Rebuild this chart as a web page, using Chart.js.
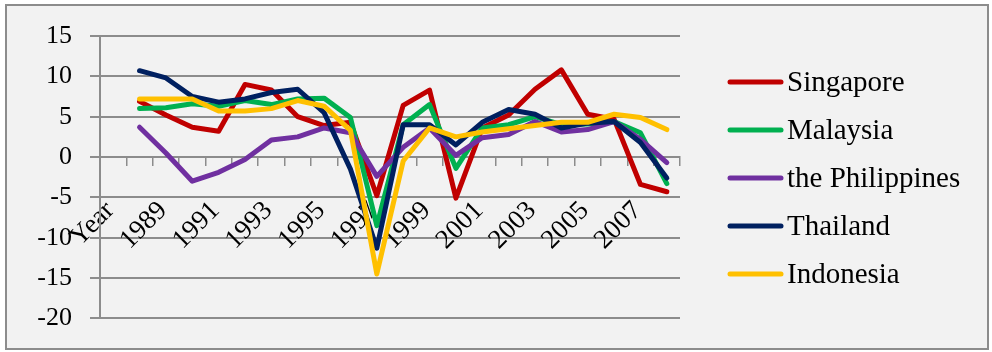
<!DOCTYPE html>
<html>
<head>
<meta charset="utf-8">
<script src="https://cdn.jsdelivr.net/npm/chart.js@4"></script>
<style>
	html, body { margin: 0; padding: 0; background: #fff; }
	canvas { display: block; }
</style>
</head>
<body>
<canvas id="growth" width="992" height="352"></canvas>
<script>
// x categories, first slot is the header cell
const years = ['Year', '1988', '1989', '1990', '1991', '1992', '1993', '1994', '1995', '1996', '1997',
	'1998', '1999', '2000', '2001', '2002', '2003', '2004', '2005', '2006', '2007', '2008'];

// GDP growth (%) by country
const singapore = [null, 6.9, 5.2, 3.7, 3.2, 9.0, 8.3, 5.0, 3.9, 4.3, -4.8, 6.4, 8.3, -5.1, 3.6, 5.2, 8.4, 10.8, 5.3, 4.7, -3.4, -4.3];
const malaysia = [null, 6.0, 6.1, 6.6, 6.3, 7.0, 6.5, 7.2, 7.3, 4.9, -8.5, 4.0, 6.5, -1.4, 3.6, 4.0, 5.0, 4.0, 4.1, 4.4, 3.0, -3.3];
const philippines = [null, 3.7, 0.5, -3.0, -1.9, -0.3, 2.1, 2.5, 3.6, 3.0, -2.4, 1.2, 3.6, 0.2, 2.4, 2.8, 4.4, 3.1, 3.4, 4.4, 2.2, -0.7];
const thailand = [null, 10.7, 9.8, 7.5, 6.8, 7.2, 8.0, 8.4, 5.5, -1.5, -11.3, 4.0, 4.0, 1.5, 4.3, 5.9, 5.3, 3.6, 4.2, 4.4, 1.8, -2.6];
const indonesia = [null, 7.2, 7.2, 7.2, 5.7, 5.7, 6.0, 7.0, 6.3, 3.3, -14.5, -0.5, 3.6, 2.5, 3.1, 3.5, 3.9, 4.3, 4.3, 5.3, 4.9, 3.4];

const yTicks = [15, 10, 5, 0, -5, -10, -15, -20];

const serif = '"Liberation Serif", "Times New Roman", serif';
const gridColor = '#8c8c8c';

// frame + panel background
const panelBg = {
	id: 'panelBg',
	beforeDraw(chart) {
		const ctx = chart.ctx;
		ctx.save();
		ctx.fillStyle = '#ffffff';
		ctx.fillRect(0, 0, chart.width, chart.height);
		ctx.fillStyle = '#f2f2f2';
		ctx.fillRect(6, 5, 982, 344);
		ctx.strokeStyle = gridColor;
		ctx.lineWidth = 2;
		ctx.strokeRect(6, 5, 982, 344);
		ctx.restore();
	}
};

// legend drawn as line samples on the right
const sideLegend = {
	id: 'sideLegend',
	afterDraw(chart) {
		const ctx = chart.ctx;
		ctx.save();
		ctx.font = `29px ${serif}`;
		ctx.textBaseline = 'middle';
		ctx.textAlign = 'left';
		chart.data.datasets.forEach((ds, i) => {
			const y = 82 + 48 * i;
			ctx.strokeStyle = ds.borderColor;
			ctx.lineWidth = 5;
			ctx.lineCap = 'round';
			ctx.beginPath();
			ctx.moveTo(730, y);
			ctx.lineTo(781, y);
			ctx.stroke();
			ctx.fillStyle = '#000';
			ctx.fillText(ds.label, 787, y + 1);
		});
		ctx.restore();
	}
};

function series(label, data, color, order) {
	return {
		label: label,
		data: data,
		borderColor: color,
		backgroundColor: color,
		borderWidth: 5,
		borderJoinStyle: 'round',
		borderCapStyle: 'round',
		pointRadius: 0,
		tension: 0,
		order: order
	};
}

const canvas = document.querySelector('#growth');
new Chart(canvas, {
	type: 'line',
	data: {
		labels: years,
		datasets: [
			series('Singapore', singapore, '#c00000', 5),
			series('Malaysia', malaysia, '#00b050', 4),
			series('the Philippines', philippines, '#7030a0', 3),
			series('Thailand', thailand, '#002060', 2),
			series('Indonesia', indonesia, '#ffc000', 1)
		]
	},
	options: {
		responsive: false,
		animation: false,
		layout: {
			padding: { left: 0, right: 312, top: 36, bottom: 32 }
		},
		plugins: {
			legend: { display: false },
			tooltip: { enabled: false }
		},
		scales: {
			x: {
				position: { y: 0 },
				offset: true,
				grid: {
					drawOnChartArea: false,
					drawTicks: true,
					tickLength: 8,
					offset: true,
					color: gridColor,
					lineWidth: 1.5
				},
				border: { color: gridColor, width: 2 },
				ticks: {
					autoSkip: false,
					maxRotation: 45,
					minRotation: 45,
					padding: 30,
					labelOffset: -3,
					color: '#000',
					font: { family: serif, size: 27 },
					callback: (v, i) => (i % 2 === 0 ? years[i] : '')
				}
			},
			y: {
				min: -20,
				max: 15,
				afterFit: (scale) => { scale.width = 100; },
				afterBuildTicks: (scale) => {
					scale.ticks = yTicks.map(v => ({ value: v }));
				},
				grid: {
					color: gridColor,
					lineWidth: 2,
					tickLength: 10
				},
				border: { color: gridColor, width: 2 },
				ticks: {
					padding: 18,
					color: '#000',
					font: { family: serif, size: 26 },
					callback: (v) => String(v)
				}
			}
		}
	},
	plugins: [panelBg, sideLegend]
});
</script>
</body>
</html>
